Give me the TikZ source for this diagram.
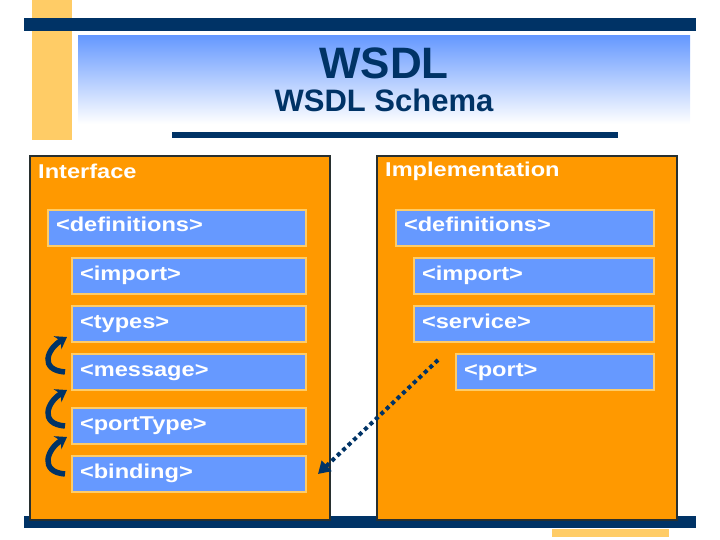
\documentclass[tikz,border=0pt]{standalone}
\usepackage{fontspec}
\setmainfont{Liberation Sans}
\newfontfamily\boxfont[FakeStretch=1.18]{Liberation Sans Bold}
\usetikzlibrary{arrows.meta,positioning,calc}
\definecolor{Navy}{RGB}{0,51,102}
\definecolor{Orange}{RGB}{255,153,0}
\definecolor{Sky}{RGB}{102,153,255}
\definecolor{Sand}{RGB}{255,204,102}
\definecolor{Frame}{RGB}{40,48,48}

\tikzset{
  panel/.style={draw=Frame,line width=1.5pt,fill=Orange,anchor=north west,minimum width=300pt,minimum height=364pt,inner sep=0pt,outer sep=0pt},
  panellabel/.style={anchor=west,text=white,font=\boxfont\fontsize{20}{24}\selectfont,inner sep=0pt},
  tag/.style={draw=Sand,line width=1.2pt,fill=Sky,anchor=north west,minimum height=36pt,text=white,font=\boxfont\fontsize{20}{24}\selectfont,align=left,inner xsep=8pt,inner ysep=0pt,outer sep=0pt,text height=14pt,text depth=6pt,text width=#1},
  refarrow/.style={draw=Navy,line width=5.5pt,-{Stealth[length=11pt,width=15pt]}},
  linkarrow/.style={draw=Navy,line width=4pt,dash pattern=on 4pt off 3.5pt,-{Triangle[length=12pt,width=14pt]}}
}

\begin{document}
\begin{tikzpicture}[x=1pt,y=-1pt]
\useasboundingbox (0,0) rectangle (720,540);
% title band
\fill[Sand] (32,0) rectangle (72,140);
\fill[Navy] (24,18) rectangle (696,31);
\shade[top color=Sky, bottom color=white] (78,36) rectangle (690,124);
\node[font=\bfseries\fontsize{44}{48}\selectfont,text=Navy,anchor=base,inner sep=0pt] (title) at (384,79) {WSDL};
\node[font=\bfseries\fontsize{31}{34}\selectfont,text=Navy,anchor=base,inner sep=0pt] (subtitle) at (384,112) {WSDL Schema};
\fill[Navy] (172,132) rectangle (618,138);
\fill[Navy] (24,516) rectangle (696,528);
\fill[Sand] (552,529) rectangle (669,537);

% panels
\node[panel] (ifc) at (30,156) {};
\node[panel,right=47pt of ifc] (impl) {};
\node[panellabel] (ifclabel) at ([xshift=8pt,yshift=-15pt]ifc.north west) {Interface};
\node[panellabel] (impllabel) at ([xshift=8pt,yshift=-15pt]impl.north west) {Implementation};

% interface side
\node[tag=242pt] (defL) at ([xshift=18pt,yshift=-54pt]ifc.north west) {<definitions>};
\node[tag=218pt] (impL) at ([xshift=24pt,yshift=-12pt]defL.south west) {<import>};
\node[tag=218pt,below=12pt of impL] (typesL) {<types>};
\node[tag=218pt,below=12pt of typesL] (msgL) {<message>};
\node[tag=218pt,below=18pt of msgL] (ptL) {<portType>};
\node[tag=218pt,below=12pt of ptL] (bindL) {<binding>};

% implementation side
\node[tag=242pt] (defR) at ([xshift=19pt,yshift=-54pt]impl.north west) {<definitions>};
\node[tag=224pt] (impR) at ([xshift=18pt,yshift=-12pt]defR.south west) {<import>};
\node[tag=224pt,below=12pt of impR] (servR) {<service>};
\node[tag=182pt] (portR) at ([xshift=42pt,yshift=-12pt]servR.south west) {<port>};

% references
\draw[refarrow] ([xshift=-7pt]msgL.west) .. controls +(-26,-2) and +(-20,12) .. ([xshift=-5pt,yshift=5pt]typesL.south west);
\draw[refarrow] ([xshift=-7pt]ptL.west) .. controls +(-26,-2) and +(-20,12) .. ([xshift=-5pt]msgL.south west);
\draw[refarrow] ([xshift=-7pt]bindL.west) .. controls +(-26,-2) and +(-20,12) .. ([xshift=-5pt,yshift=7pt]ptL.south west);
\coordinate (portout) at ([xshift=-18pt,yshift=12pt]portR.west);
\draw[linkarrow] (portout) -- ([xshift=12pt]bindL.east);
\end{tikzpicture}
\end{document}
